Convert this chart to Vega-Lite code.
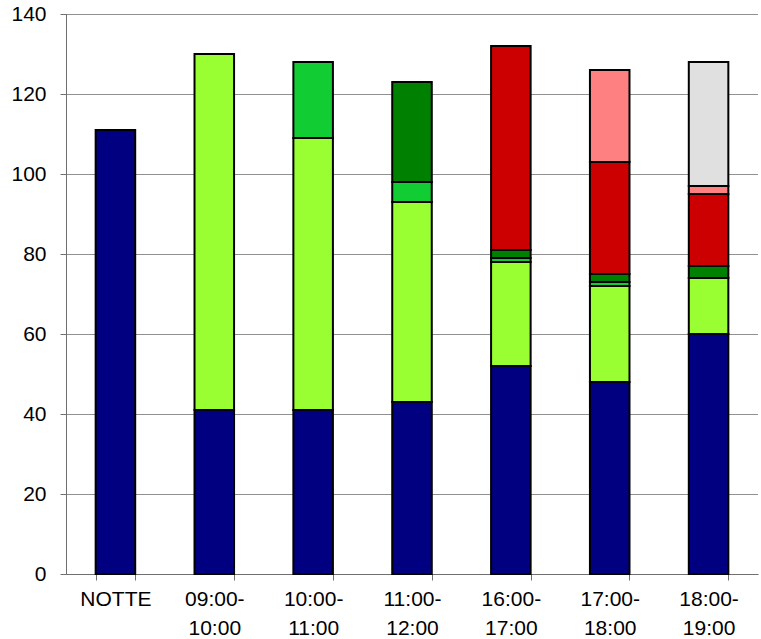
{
  "$schema": "https://vega.github.io/schema/vega-lite/v6.json",
  "width": 692,
  "height": 560,
  "autosize": {"type": "none"},
  "padding": {"left": 66, "top": 14, "right": 3, "bottom": 65},
  "background": "white",
  "config": {
    "view": {"stroke": null},
    "font": "Liberation Sans",
    "axis": {"labelFont": "Liberation Sans", "labelColor": "black", "labelFontSize": 21}
  },
  "data": {
    "values": [
      {"cat": "NOTTE", "s": "s1", "k": 1, "v": 111},
      {"cat": "09:00- 10:00", "s": "s1", "k": 1, "v": 41},
      {"cat": "09:00- 10:00", "s": "s2", "k": 2, "v": 89},
      {"cat": "10:00- 11:00", "s": "s1", "k": 1, "v": 41},
      {"cat": "10:00- 11:00", "s": "s2", "k": 2, "v": 68},
      {"cat": "10:00- 11:00", "s": "s3", "k": 3, "v": 19},
      {"cat": "11:00- 12:00", "s": "s1", "k": 1, "v": 43},
      {"cat": "11:00- 12:00", "s": "s2", "k": 2, "v": 50},
      {"cat": "11:00- 12:00", "s": "s3", "k": 3, "v": 5},
      {"cat": "11:00- 12:00", "s": "s4", "k": 4, "v": 25},
      {"cat": "16:00- 17:00", "s": "s1", "k": 1, "v": 52},
      {"cat": "16:00- 17:00", "s": "s2", "k": 2, "v": 26},
      {"cat": "16:00- 17:00", "s": "s3", "k": 3, "v": 1},
      {"cat": "16:00- 17:00", "s": "s4", "k": 4, "v": 2},
      {"cat": "16:00- 17:00", "s": "s5", "k": 5, "v": 51},
      {"cat": "17:00- 18:00", "s": "s1", "k": 1, "v": 48},
      {"cat": "17:00- 18:00", "s": "s2", "k": 2, "v": 24},
      {"cat": "17:00- 18:00", "s": "s3", "k": 3, "v": 1},
      {"cat": "17:00- 18:00", "s": "s4", "k": 4, "v": 2},
      {"cat": "17:00- 18:00", "s": "s5", "k": 5, "v": 28},
      {"cat": "17:00- 18:00", "s": "s6", "k": 6, "v": 23},
      {"cat": "18:00- 19:00", "s": "s1", "k": 1, "v": 60},
      {"cat": "18:00- 19:00", "s": "s2", "k": 2, "v": 14},
      {"cat": "18:00- 19:00", "s": "s4", "k": 4, "v": 3},
      {"cat": "18:00- 19:00", "s": "s5", "k": 5, "v": 18},
      {"cat": "18:00- 19:00", "s": "s6", "k": 6, "v": 2},
      {"cat": "18:00- 19:00", "s": "s7", "k": 7, "v": 31}
    ]
  },
  "mark": {"type": "bar", "stroke": "black", "strokeWidth": 2},
  "encoding": {
    "x": {
      "field": "cat",
      "type": "nominal",
      "sort": null,
      "scale": {"paddingInner": 0.6, "paddingOuter": 0.3},
      "axis": {
        "title": null,
        "labelAngle": 0,
        "labelExpr": "split(datum.label, ' ')",
        "labelLineHeight": 29,
        "labelBaseline": "top",
        "labelPadding": 8,
        "tickBand": "extent",
        "tickSize": 6,
        "tickColor": "#707070",
        "domainColor": "#707070",
        "domainWidth": 1,
        "grid": false
      }
    },
    "y": {
      "field": "v",
      "type": "quantitative",
      "stack": "zero",
      "scale": {"domain": [0, 140], "nice": false},
      "axis": {
        "title": null,
        "values": [0, 20, 40, 60, 80, 100, 120, 140],
        "tickSize": 6,
        "tickColor": "#707070",
        "domainColor": "#707070",
        "labelPadding": 14,
        "grid": true,
        "gridColor": "#222222",
        "gridDash": [1, 1],
        "gridWidth": 1
      }
    },
    "color": {
      "field": "s",
      "type": "nominal",
      "legend": null,
      "scale": {
        "domain": ["s1", "s2", "s3", "s4", "s5", "s6", "s7"],
        "range": ["#000080", "#99FF33", "#11CC33", "#008000", "#CC0000", "#FF8080", "#E0E0E0"]
      }
    },
    "order": {"field": "k", "type": "quantitative"}
  }
}
